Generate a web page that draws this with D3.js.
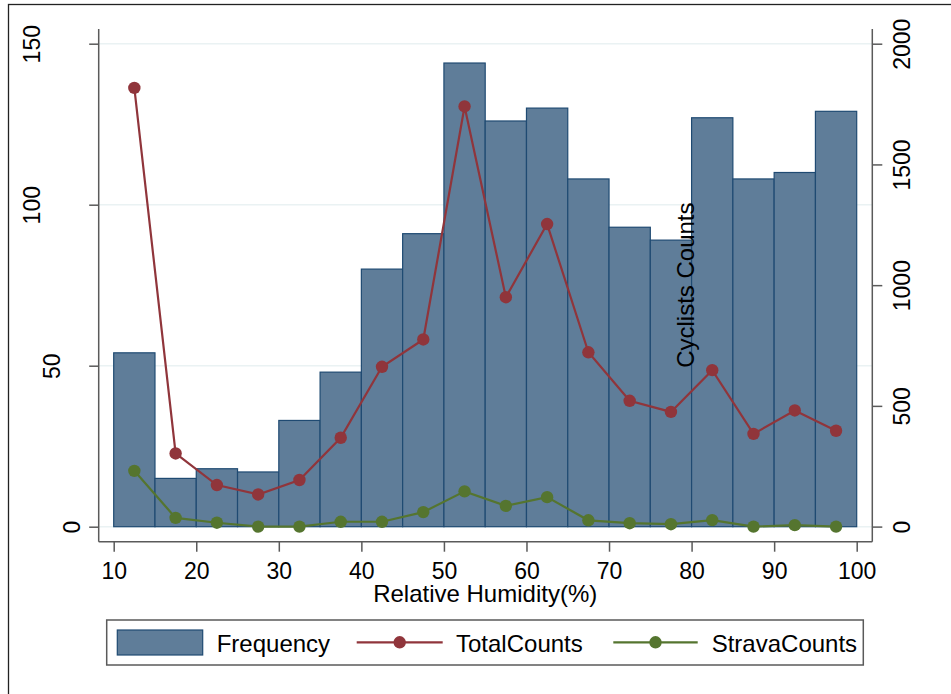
<!DOCTYPE html>
<html>
<head>
<meta charset="utf-8">
<script src="https://cdn.jsdelivr.net/npm/d3@7"></script>
<style>
  html, body { margin: 0; padding: 0; background: #fff; }
  svg { display: block; font-family: "Liberation Sans", Arial, sans-serif; }
</style>
</head>
<body>
<svg id="chart" width="951" height="694"></svg>
<script>
// ---- data ----
const binStarts = [10, 15, 20, 25, 30, 35, 40, 45, 50, 55, 60, 65, 70, 75, 80, 85, 90, 95];
const binWidth = 5;
const frequency = [54, 15, 18, 17, 33, 48, 80, 91, 144, 126, 130, 108, 93, 89, 127, 108, 110, 129];
const midpoints = [12.5, 17.5, 22.5, 27.5, 32.5, 37.5, 42.5, 47.5, 52.5, 57.5, 62.5, 67.5, 72.5, 77.5, 82.5, 87.5, 92.5, 97.5];
const totalCounts = [1817, 303, 172, 133, 193, 368, 662, 775, 1740, 950, 1253, 722, 521, 475, 648, 384, 481, 397];
const stravaCounts = [231, 36, 16, 0, 0, 20, 20, 60, 146, 86, 122, 26, 14, 10, 27, 0, 6, 0];
const xTicks = [10, 20, 30, 40, 50, 60, 70, 80, 90, 100];
const leftTicks = [0, 50, 100, 150];
const rightTicks = [0, 500, 1000, 1500, 2000];
const xTitle = "Relative Humidity(%)";
const rightTitle = "Cyclists Counts";
const legendItems = ["Frequency", "TotalCounts", "StravaCounts"];

// ---- styles ----
const barFill = "#5f7d99", barStroke = "#1f4a72";
const red = "#90353b", green = "#55752f";
const axisColor = "#5a5a5a", gridColor = "#eaf2f3";

const svg = d3.select("#chart");

// outer border (only top/left visible)
svg.append("rect").attr("x", 8.5).attr("y", 4.5).attr("width", 1000).attr("height", 1000)
  .attr("fill", "none").attr("stroke", "#222").attr("stroke-width", 1.3);

// plot region bounds
const pL = 98.7, pR = 872.3, pT = 29, pB = 541.7;

const x = d3.scaleLinear().domain([10, 100]).range([113.7, 856.7]);
const yL = d3.scaleLinear().domain([0, 150]).range([526.7, 43.7]);
const yR = d3.scaleLinear().domain([0, 2000]).range([526.6, 43.7]);

// gridlines
svg.append("g").selectAll("line").data(leftTicks).join("line")
  .attr("x1", pL).attr("x2", pR)
  .attr("y1", d => yL(d)).attr("y2", d => yL(d))
  .attr("stroke", gridColor).attr("stroke-width", 1.5);

// bars
svg.append("g").selectAll("rect").data(binStarts).join("rect")
  .attr("x", d => x(d))
  .attr("width", d => x(d + binWidth) - x(d))
  .attr("y", (d, i) => yL(frequency[i]))
  .attr("height", (d, i) => yL(0) - yL(frequency[i]))
  .attr("fill", barFill).attr("stroke", barStroke).attr("stroke-width", 1.2);

// right axis title (drawn inside plot as in reference)
svg.append("text")
  .attr("transform", `translate(694.3, ${(yR(0) + yR(2000)) / 2}) rotate(-90)`)
  .attr("text-anchor", "middle").attr("font-size", 24).attr("fill", "#000")
  .text(rightTitle);

// lines
function drawSeries(values, color) {
  const line = d3.line().x((d, i) => x(midpoints[i])).y(d => yR(d));
  svg.append("path").datum(values).attr("d", line)
    .attr("fill", "none").attr("stroke", color).attr("stroke-width", 2.2);
  svg.append("g").selectAll("circle").data(values).join("circle")
    .attr("cx", (d, i) => x(midpoints[i])).attr("cy", d => yR(d))
    .attr("r", 6.2).attr("fill", color);
}
drawSeries(totalCounts, red);
drawSeries(stravaCounts, green);

// axes
const axStyle = g => {
  g.select(".domain").remove();
  g.selectAll(".tick line").attr("stroke", axisColor).attr("stroke-width", 1.5);
  g.selectAll(".tick text").attr("fill", "#000").attr("font-size", 23)
    .attr("font-family", '"Liberation Sans", Arial, sans-serif');
};

// axis lines
svg.append("line").attr("x1", pL).attr("x2", pL).attr("y1", pT).attr("y2", pB)
  .attr("stroke", axisColor).attr("stroke-width", 1.5);
svg.append("line").attr("x1", pR).attr("x2", pR).attr("y1", pT).attr("y2", pB)
  .attr("stroke", axisColor).attr("stroke-width", 1.5);
svg.append("line").attr("x1", pL).attr("x2", pR).attr("y1", pB).attr("y2", pB)
  .attr("stroke", axisColor).attr("stroke-width", 1.5);

// bottom axis
svg.append("g").attr("transform", `translate(0, ${pB})`)
  .call(d3.axisBottom(x).tickValues(xTicks).tickSize(10).tickPadding(10).tickFormat(d3.format("d")))
  .call(axStyle)
  .call(g => g.selectAll(".tick text").attr("dy", null).attr("y", 37));

// left axis
svg.append("g").attr("transform", `translate(${pL}, 0)`)
  .call(d3.axisLeft(yL).tickValues(leftTicks).tickSize(9.5).tickFormat(d3.format("d")))
  .call(axStyle)
  .call(g => g.selectAll(".tick text")
    .attr("x", null).attr("dy", null).attr("text-anchor", "middle")
    .attr("transform", d => {
      const len = String(d).length;
      const bx = 100.5 - 20.3 * len - pL;
      return `translate(${bx}, 0) rotate(-90)`;
    }));

// right axis
svg.append("g").attr("transform", `translate(${pR}, 0)`)
  .call(d3.axisRight(yR).tickValues(rightTicks).tickSize(10).tickFormat(d3.format("d")))
  .call(axStyle)
  .call(g => g.selectAll(".tick text")
    .attr("x", null).attr("dy", null).attr("text-anchor", "middle")
    .attr("transform", `translate(${910 - pR}, 0) rotate(-90)`));

// x title
svg.append("text").attr("x", (x(10) + x(100)) / 2).attr("y", 601.5)
  .attr("text-anchor", "middle").attr("font-size", 24).text(xTitle);

// legend
const lg = svg.append("g");
lg.append("rect").attr("x", 106.7).attr("y", 620).attr("width", 863.3 - 106.7).attr("height", 45)
  .attr("fill", "#fff").attr("stroke", axisColor).attr("stroke-width", 1.5);
lg.append("rect").attr("x", 117.3).attr("y", 630).attr("width", 85.4).attr("height", 25)
  .attr("fill", barFill).attr("stroke", barStroke).attr("stroke-width", 1.2);
lg.append("text").attr("x", 216.7).attr("y", 652.3).attr("font-size", 24).text(legendItems[0]);
const legLine = (x1, x2, color, tx, label) => {
  lg.append("line").attr("x1", x1).attr("x2", x2).attr("y1", 642.3).attr("y2", 642.3)
    .attr("stroke", color).attr("stroke-width", 2.2);
  lg.append("circle").attr("cx", (x1 + x2) / 2).attr("cy", 642.3).attr("r", 6.2).attr("fill", color);
  lg.append("text").attr("x", tx).attr("y", 652.3).attr("font-size", 24).text(label);
};
legLine(356.7, 442.7, red, 456, legendItems[1]);
legLine(613.3, 697.7, green, 711.7, legendItems[2]);
</script>
</body>
</html>
